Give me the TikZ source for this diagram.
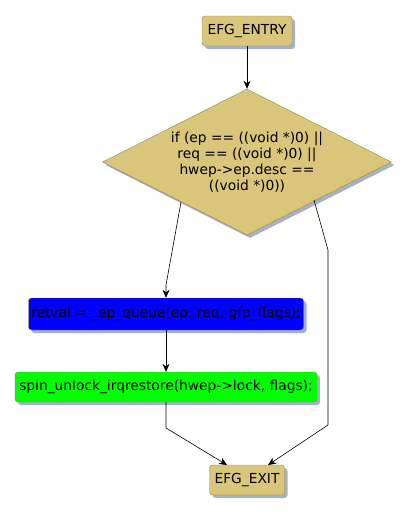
\documentclass[tikz,border=0pt]{standalone}
\usepackage{fontspec}
\setmainfont{DejaVu Sans}
\usetikzlibrary{arrows.meta,shapes.geometric,shadows}
\definecolor{efgfill}{HTML}{D9C67B}
\definecolor{efgline}{HTML}{9A8740}
\definecolor{efgshadow}{HTML}{A3B1CC}
\definecolor{qblue}{HTML}{0000FF}
\definecolor{qgreen}{HTML}{00FF00}

\begin{document}
\begin{tikzpicture}[
    x=1pt, y=-1pt,
    box/.style={rectangle, rounded corners=3pt, draw=efgline, fill=efgfill,
                font=\fontsize{13.8}{16}\selectfont, inner sep=0pt,
                drop shadow={shadow xshift=3pt, shadow yshift=-3pt,
                             fill=efgshadow, opacity=1}},
    cond/.style={diamond, draw=efgline, fill=efgfill, aspect=2, inner sep=0pt,
                 font=\fontsize{13.8}{16}\selectfont, align=center,
                 drop shadow={shadow xshift=3pt, shadow yshift=-3pt,
                              fill=efgshadow, opacity=1}},
    arr/.style={-{Stealth[length=8pt, width=7pt]}, semithick},
  ]
  \useasboundingbox (0,0) rectangle (411,515);

  % entry / exit terminals
  \node[box, minimum width=90pt, minimum height=30pt] (entry) at (247,31) {EFG\_ENTRY};
  \node[box, minimum width=75pt, minimum height=30pt] (exit)  at (247,480) {EFG\_EXIT};

  % the test
  \node[cond, minimum width=289pt, minimum height=146pt] (test) at (247,162)
    {if (ep == ((void *)0) ||\\req == ((void *)0) ||\\hwep->ep.desc ==\\((void *)0))};

  % statements
  \node[box, fill=qblue, minimum width=275pt, minimum height=32pt] (queue) at (166,314)
    {retval = \_ep\_queue(ep, req, gfp\_flags);};
  \node[box, fill=qgreen, minimum width=302pt, minimum height=30pt] (unlock) at (166,387)
    {spin\_unlock\_irqrestore(hwep->lock, flags);};

  % where the edges leave the test, and their bend points
  \coordinate (ldep)  at (181,202);
  \coordinate (rdep)  at (314,200);
  \coordinate (lbend) at (166,285);
  \coordinate (rtop)  at (328,250);
  \coordinate (rbot)  at (328,425);
  \coordinate (ubend) at (166,428);
  \coordinate (xin1)  at (227,465);
  \coordinate (xin2)  at (268,465);

  \draw[arr] (entry) -- (test.north);
  \draw[arr] (ldep) -- (lbend) -- (queue.north);
  \draw[arr] (queue) -- (unlock);
  \draw[arr] (unlock.south) -- (ubend) -- (xin1);
  \draw[arr] (rdep) -- (rtop) -- (rbot) -- (xin2);
\end{tikzpicture}
\end{document}
